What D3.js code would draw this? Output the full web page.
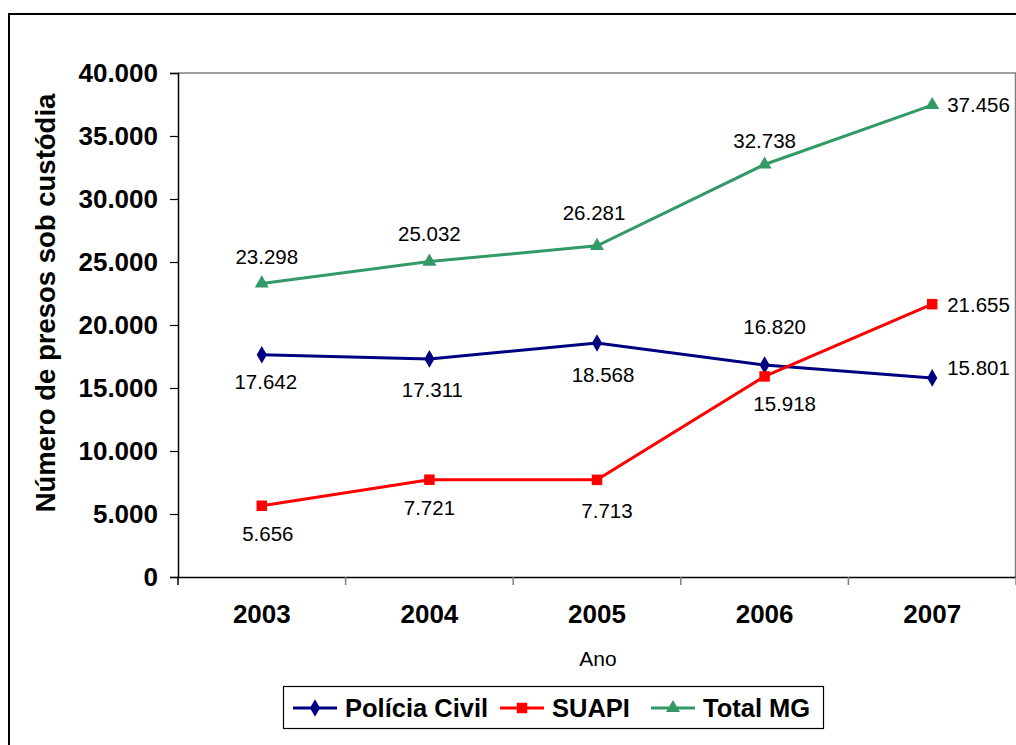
<!DOCTYPE html>
<html>
<head>
<meta charset="utf-8">
<script src="https://cdn.jsdelivr.net/npm/d3@7"></script>
<style>
  html, body { margin: 0; padding: 0; background: #fff; }
  svg { display: block; font-family: "Liberation Sans", Arial, sans-serif; }
</style>
</head>
<body>
<svg id="chart" width="1016" height="745"></svg>
<script>
// Custodial population in Minas Gerais, 2003-2007
const years = ["2003", "2004", "2005", "2006", "2007"];
const policiaCivil = [17642, 17311, 18568, 16820, 15801];
const suapi = [5656, 7721, 7713, 15918, 21655];
const totalMG = [23298, 25032, 26281, 32738, 37456];
const yTicks = [0, 5000, 10000, 15000, 20000, 25000, 30000, 35000, 40000];
const seriesNames = ["Polícia Civil", "SUAPI", "Total MG"];

// Label placement per point: [dx, dy, anchor] relative to the marker
const labelPlacement = {
  "Polícia Civil": [[4, 27, "middle"], [3, 31, "middle"], [6, 32, "middle"], [10, -38, "middle"], [15, -10, "start"]],
  "SUAPI": [[6, 28, "middle"], [0, 28, "middle"], [10, 31, "middle"], [20, 27, "middle"], [15, 1, "start"]],
  "Total MG": [[5, -27, "middle"], [0, -28, "middle"], [-3, -33, "middle"], [0, -24, "middle"], [15, 0, "start"]]
};

const series = [
  { name: seriesNames[0], values: policiaCivil, color: "#000080", marker: d3.symbolDiamond, size: 90 },
  { name: seriesNames[1], values: suapi, color: "#FF0000", marker: d3.symbolSquare, size: 110 },
  { name: seriesNames[2], values: totalMG, color: "#339966", marker: d3.symbolTriangle, size: 85 }
];

const svg = d3.select("#chart");
const plot = { left: 178, right: 1016, top: 73, bottom: 577 };

// Outer chart frame
svg.append("path")
  .attr("d", `M9,745 L9,14 L1016,14`)
  .attr("fill", "none").attr("stroke", "#000").attr("stroke-width", 2);

const x = d3.scaleBand().domain(years).range([plot.left, plot.right]);
const y = d3.scaleLinear().domain([0, 40000]).range([plot.bottom, plot.top]);
const fmt = v => d3.format(",")(v).replace(/,/g, ".");

// Plot area top/right border
svg.append("path")
  .attr("d", `M${plot.left},${plot.top} L${plot.right - 0.5},${plot.top} L${plot.right - 0.5},${plot.bottom}`)
  .attr("fill", "none").attr("stroke", "#808080").attr("stroke-width", 1.5);

// Y axis
const yAxis = svg.append("g")
  .attr("transform", `translate(${plot.left},0)`)
  .call(d3.axisLeft(y).tickValues(yTicks).tickSize(8).tickPadding(12).tickFormat(fmt));
yAxis.select(".domain").attr("stroke", "#000").attr("stroke-width", 1.5);
yAxis.selectAll(".tick line").attr("stroke", "#000").attr("stroke-width", 1.2);
yAxis.selectAll(".tick text")
  .attr("font-family", "Liberation Sans, Arial, sans-serif")
  .attr("font-size", 26).attr("font-weight", "bold").attr("fill", "#000");

// X axis with ticks between categories
const xAxis = svg.append("g")
  .attr("transform", `translate(0,${plot.bottom})`)
  .call(d3.axisBottom(x).tickSize(0).tickPadding(28));
xAxis.select(".domain").attr("stroke", "#000").attr("stroke-width", 1.5);
xAxis.selectAll(".tick text")
  .attr("font-family", "Liberation Sans, Arial, sans-serif")
  .attr("font-size", 26).attr("font-weight", "bold").attr("fill", "#000");
xAxis.selectAll(".boundary")
  .data(years.map(yr => x(yr)).concat([plot.right]))
  .join("line")
  .attr("class", "boundary")
  .attr("x1", d => d).attr("x2", d => d)
  .attr("y1", 0).attr("y2", 8)
  .attr("stroke", d => d === plot.left ? "#000" : "#808080").attr("stroke-width", 1.5);

// Axis titles
svg.append("text")
  .attr("transform", `translate(55,303) rotate(-90)`)
  .attr("text-anchor", "middle")
  .attr("font-size", 27.5).attr("font-weight", "bold")
  .text("Número de presos sob custódia");
svg.append("text")
  .attr("x", (plot.left + plot.right) / 2 + 1).attr("y", 666)
  .attr("text-anchor", "middle")
  .attr("font-size", 21)
  .text("Ano");

const cx = d => x(d) + x.bandwidth() / 2;
const line = d3.line().x((d, i) => cx(years[i])).y(d => y(d));

// Series lines, markers and value labels
series.forEach(s => {
  const g = svg.append("g");
  g.append("path")
    .datum(s.values)
    .attr("d", line)
    .attr("fill", "none").attr("stroke", s.color).attr("stroke-width", 3);
  g.selectAll("path.marker")
    .data(s.values)
    .join("path")
    .attr("class", "marker")
    .attr("d", d3.symbol().type(s.marker).size(s.size))
    .attr("transform", (d, i) => `translate(${cx(years[i])},${y(d)})`)
    .attr("fill", s.color);
});

series.forEach(s => {
  const place = labelPlacement[s.name];
  svg.append("g").selectAll("text")
    .data(s.values)
    .join("text")
    .attr("x", (d, i) => cx(years[i]) + place[i][0])
    .attr("y", (d, i) => y(d) + place[i][1])
    .attr("dy", "0.35em")
    .attr("text-anchor", (d, i) => place[i][2])
    .attr("font-size", 20.5)
    .attr("fill", "#000")
    .text(d => fmt(d));
});

// Legend
const legend = svg.append("g");
legend.append("rect")
  .attr("x", 283.5).attr("y", 686.5).attr("width", 540).attr("height", 42)
  .attr("fill", "#fff").attr("stroke", "#000").attr("stroke-width", 1.2);
const legendItems = [
  { s: series[0], x: 293 },
  { s: series[1], x: 500 },
  { s: series[2], x: 651 }
];
legendItems.forEach(it => {
  const ly = 708;
  legend.append("line")
    .attr("x1", it.x).attr("x2", it.x + 44).attr("y1", ly).attr("y2", ly)
    .attr("stroke", it.s.color).attr("stroke-width", 3);
  legend.append("path")
    .attr("d", d3.symbol().type(it.s.marker).size(it.s.size))
    .attr("transform", `translate(${it.x + 22},${ly})`)
    .attr("fill", it.s.color);
  legend.append("text")
    .attr("x", it.x + 52).attr("y", ly).attr("dy", "0.36em")
    .attr("font-size", 25.5).attr("font-weight", "bold")
    .text(it.s.name);
});
</script>
</body>
</html>
